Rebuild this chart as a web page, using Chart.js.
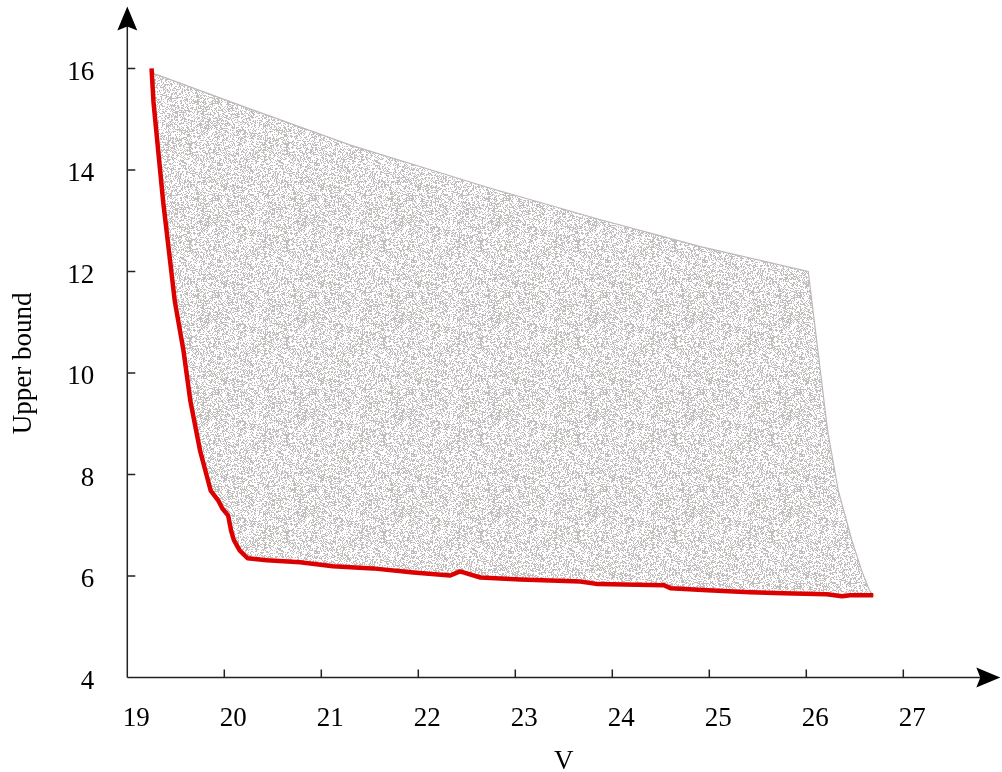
<!DOCTYPE html>
<html>
<head>
<meta charset="utf-8">
<script src="https://cdn.jsdelivr.net/npm/chart.js@4"></script>
<style>
  html, body { margin: 0; padding: 0; background: #fff; }
</style>
</head>
<body>
<canvas id="chart" width="1002" height="772"></canvas>
<script>
// Pareto front (red): V and upper bound
const frontV = [19.25, 19.27, 19.32, 19.37, 19.43, 19.49, 19.58, 19.65, 19.75, 19.86, 19.94, 19.98, 20.04, 20.07,
  20.10, 20.16, 20.24, 20.44, 20.78, 21.12, 21.53, 21.95, 22.33, 22.43, 22.64, 23.05, 23.67, 23.85,
  24.53, 24.60, 24.98, 25.42, 25.76, 26.21, 26.37, 26.45, 26.69];
const frontBound = [16.0, 15.34, 14.35, 13.37, 12.39, 11.41, 10.43, 9.45, 8.47, 7.68, 7.48, 7.33, 7.19, 6.89,
  6.70, 6.50, 6.35, 6.31, 6.27, 6.19, 6.15, 6.07, 6.01, 6.09, 5.97, 5.93, 5.89, 5.84,
  5.82, 5.76, 5.72, 5.68, 5.66, 5.64, 5.60, 5.62, 5.62];

// outer edge of the grey cloud of sampled solutions (top edge, then right edge)
const cloudTopV = [19.29, 20.27, 21.30, 22.71, 23.88, 24.91, 26.02];
const cloudTopBound = [15.89, 15.20, 14.49, 13.66, 13.02, 12.49, 12.00];
const cloudRightV = [26.12, 26.22, 26.33, 26.47, 26.57, 26.65];
const cloudRightBound = [10.43, 8.86, 7.68, 6.70, 6.11, 5.72];

const xTicks = [19, 20, 21, 22, 23, 24, 25, 26, 27];
const yTicks = [4, 6, 8, 10, 12, 14, 16];

const font = { family: "'Liberation Serif', 'DejaVu Serif', serif", size: 27 };

function toPoints(xs, ys) {
  return xs.map((v, i) => ({ x: v, y: ys[i] }));
}

// closed outline of the cloud: top edge, right edge, then back along the front
const frontPts = toPoints(frontV, frontBound);
const cloudPts = toPoints(cloudTopV, cloudTopBound)
  .concat(toPoints(cloudRightV, cloudRightBound))
  .concat(frontPts.slice().reverse());

// speckled grey texture for the cloud (fixed hash, just a fill style)
function speckle(colour, density) {
  const c = document.createElement('canvas');
  c.width = c.height = 97;
  const g = c.getContext('2d');
  g.fillStyle = colour;
  for (let py = 0; py < 97; py++) {
    for (let px = 0; px < 97; px++) {
      let h = (Math.imul(px, 374761393) + Math.imul(py, 668265263)) | 0;
      h = Math.imul(h ^ (h >>> 13), 1274126177);
      h ^= h >>> 16;
      if ((h >>> 0) / 4294967296 < density) g.fillRect(px, py, 1, 1);
    }
  }
  return g.createPattern(c, 'repeat');
}

// axis lines with inward ticks and arrow heads
const axisArrows = {
  id: 'axisArrows',
  afterDraw(chart) {
    const { ctx, scales: { x, y } } = chart;
    const x0 = x.getPixelForValue(19), y0 = y.getPixelForValue(4);
    const xEnd = x.getPixelForValue(28), yEnd = y.getPixelForValue(17.22);
    ctx.save();
    ctx.strokeStyle = '#222';
    ctx.fillStyle = '#000';
    ctx.lineWidth = 1.5;
    ctx.beginPath();
    ctx.moveTo(x0, y0); ctx.lineTo(xEnd - 12, y0);
    ctx.moveTo(x0, y0); ctx.lineTo(x0, yEnd + 12);
    x.ticks.forEach(t => {
      if (t.value === 19) return;
      const px = x.getPixelForValue(t.value);
      ctx.moveTo(px, y0); ctx.lineTo(px, y0 - 8);
    });
    y.ticks.forEach(t => {
      if (t.value === 4) return;
      const py = y.getPixelForValue(t.value);
      ctx.moveTo(x0, py); ctx.lineTo(x0 + 8, py);
    });
    ctx.stroke();
    ctx.beginPath();
    ctx.moveTo(x0, yEnd);
    ctx.lineTo(x0 + 10, yEnd + 24);
    ctx.lineTo(x0, yEnd + 20);
    ctx.lineTo(x0 - 10, yEnd + 24);
    ctx.closePath();
    ctx.moveTo(xEnd, y0);
    ctx.lineTo(xEnd - 24, y0 - 10);
    ctx.lineTo(xEnd - 20, y0);
    ctx.lineTo(xEnd - 24, y0 + 10);
    ctx.closePath();
    ctx.fill();
    ctx.restore();
  }
};

const ctx = document.getElementById('chart').getContext('2d');
new Chart(ctx, {
  type: 'line',
  data: {
    // first dataset is drawn on top
    datasets: [{
      label: 'front',
      data: frontPts,
      borderColor: '#dd0000',
      borderWidth: 4.5,
      borderJoinStyle: 'round',
      fill: false,
      pointRadius: 0,
      tension: 0
    }, {
      label: 'cloud',
      data: cloudPts,
      borderColor: '#bdb9b9',
      borderWidth: 1.2,
      backgroundColor: speckle('#c2bebe', 0.42),
      fill: 'shape',
      pointRadius: 0,
      tension: 0
    }]
  },
  options: {
    responsive: false,
    animation: false,
    devicePixelRatio: 1,
    layout: { padding: { top: 46.5, right: 1.7, left: 0, bottom: 0 } },
    plugins: { legend: { display: false }, tooltip: { enabled: false } },
    scales: {
      x: {
        type: 'linear',
        min: 19,
        max: 28,
        afterBuildTicks: s => { s.ticks = xTicks.map(v => ({ value: v })); },
        afterFit: s => { s.height = 94.5; },
        grid: { display: false, drawTicks: false },
        border: { display: false },
        ticks: { font, color: '#000', padding: 25, labelOffset: 9, maxRotation: 0, autoSkip: false },
        title: { display: true, text: 'V', font, color: '#000', padding: { top: 0, bottom: -6 } }
      },
      y: {
        min: 4,
        max: 16.38,
        afterBuildTicks: s => { s.ticks = yTicks.map(v => ({ value: v })); },
        afterFit: s => { s.width = 127.3; },
        grid: { display: false, drawTicks: false },
        border: { display: false },
        ticks: { font, color: '#000', padding: 33, labelOffset: 4, autoSkip: false },
        title: { display: true, text: 'Upper bound', font, color: '#000', padding: { top: 8, bottom: 0 } }
      }
    }
  },
  plugins: [axisArrows]
});
</script>
</body>
</html>
